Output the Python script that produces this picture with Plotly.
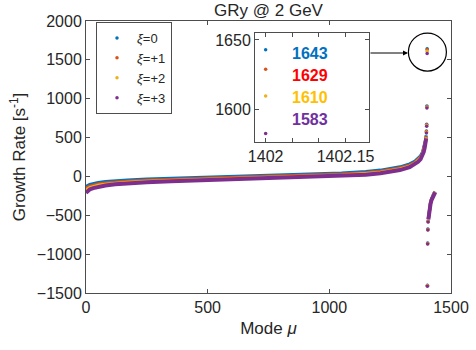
import plotly.graph_objects as go

# ---------------- data ----------------
series_names = ["<i>ξ</i>=0", "<i>ξ</i>=+1", "<i>ξ</i>=+2", "<i>ξ</i>=+3"]
series_colors = ["#0072BD", "#D95319", "#EDB120", "#7E2F8E"]

# smooth upper branch
modes_upper = [0, 5, 15, 30, 50, 80, 120, 170, 250, 350, 450, 550, 650, 750, 850,
               950, 1050, 1150, 1210, 1290, 1330, 1352, 1365, 1375, 1383, 1388,
               1392, 1395, 1397, 1398]
gr_upper_0 = [-135, -120, -105, -92, -80, -68, -57, -47, -35, -23, -13, -4, 5, 14, 22,
              32, 44, 62, 80, 122, 160, 195, 230, 265, 310, 360, 415, 460, 500, 530]
gr_upper_1 = [-160, -142, -125, -111, -98, -85, -73, -62, -49, -37, -27, -18, -9, 0, 8,
              17, 29, 47, 65, 107, 145, 180, 215, 250, 295, 345, 400, 447, 487, 517]
gr_upper_2 = [-186, -166, -147, -131, -116, -101, -87, -75, -62, -50, -39, -30, -21, -12, -4,
              5, 17, 35, 53, 95, 132, 167, 202, 237, 281, 330, 385, 433, 474, 503]
gr_upper_3 = [-212, -190, -168, -150, -133, -116, -100, -88, -74, -62, -51, -42, -33, -25, -17,
              -8, 4, 22, 40, 82, 118, 153, 188, 222, 265, 315, 370, 420, 460, 490]

# isolated points near the singular mode
modes_spike = [1399, 1400, 1401, 1402]
gr_spike_0 = [585, 670, 905, 1643]
gr_spike_1 = [578, 665, 898, 1629]
gr_spike_2 = [570, 655, 890, 1610]
gr_spike_3 = [560, 645, 880, 1583]

modes_drop = [1403, 1404, 1405, 1406]
gr_drop_0 = [-1400, -858, -678, -576]
gr_drop_1 = [-1404, -862, -682, -580]
gr_drop_2 = [-1408, -866, -686, -584]
gr_drop_3 = [-1412, -870, -690, -588]

# smooth lower branch
modes_lower = [1407, 1409, 1412, 1416, 1420, 1425, 1430, 1435]
gr_lower_0 = [-540, -478, -405, -338, -292, -248, -218, -196]
gr_lower_1 = [-545, -482, -410, -342, -296, -252, -222, -199]
gr_lower_2 = [-550, -486, -415, -346, -300, -256, -226, -202]
gr_lower_3 = [-555, -490, -420, -350, -304, -260, -230, -205]

inset_labels = ["1643", "1629", "1610", "1583"]
inset_label_colors = ["#0070C0", "#FF0000", "#FFC000", "#7030A0"]
inset_label_y = [1640.5, 1624.5, 1608.5, 1593]

x_ticks = [0, 500, 1000, 1500]
y_ticks = [-1500, -1000, -500, 0, 500, 1000, 1500, 2000]
inset_x_ticks = [1402, 1402.15]
inset_x_text = ["1402", "1402.15"]
inset_x_minor = [1402.05, 1402.1]
inset_y_ticks = [1600, 1650]

uppers = [gr_upper_0, gr_upper_1, gr_upper_2, gr_upper_3]
spikes = [gr_spike_0, gr_spike_1, gr_spike_2, gr_spike_3]
drops = [gr_drop_0, gr_drop_1, gr_drop_2, gr_drop_3]
lowers = [gr_lower_0, gr_lower_1, gr_lower_2, gr_lower_3]
band_widths = [3.2, 3.2, 3.2, 4.0]

TXT = "#262626"
AX = "#4d4d4d"
FONT = "Liberation Sans, Arial, sans-serif"

fig = go.Figure()

for i in range(4):
    c = series_colors[i]
    fig.add_trace(go.Scatter(x=modes_upper, y=uppers[i], mode="lines",
                             line=dict(color=c, width=band_widths[i]), showlegend=False,
                             hoverinfo="skip", xaxis="x", yaxis="y"))
    fig.add_trace(go.Scatter(x=modes_lower, y=lowers[i], mode="lines",
                             line=dict(color=c, width=band_widths[i]), showlegend=False,
                             hoverinfo="skip", xaxis="x", yaxis="y"))
    fig.add_trace(go.Scatter(x=modes_spike + modes_drop, y=spikes[i] + drops[i],
                             mode="markers", name=series_names[i],
                             marker=dict(color=c, size=3.5),
                             xaxis="x", yaxis="y"))
    fig.add_trace(go.Scatter(x=[modes_spike[-1]], y=[spikes[i][-1]], mode="markers",
                             marker=dict(color=c, size=3.5), showlegend=False,
                             xaxis="x2", yaxis="y2"))

for t, col, yv in zip(inset_labels, inset_label_colors, inset_label_y):
    fig.add_annotation(x=1402.083, y=yv, xref="x2", yref="y2", text="<b>" + t + "</b>",
                       showarrow=False, font=dict(family=FONT, size=16, color=col))

fig.add_shape(type="circle", xref="x", yref="y", xsizemode="pixel", ysizemode="pixel",
              xanchor=1403, yanchor=1600, x0=-19, x1=19, y0=-19, y1=19,
              line=dict(color="black", width=1.2))

fig.add_annotation(x=(408 - 86) / 365, y=(293 - 53) / 272, xref="paper", yref="paper",
                   ax=-39, ay=0, text="", showarrow=True, arrowhead=2, arrowsize=1,
                   arrowwidth=1, arrowcolor="black")

axis_common = dict(showline=True, linecolor=AX, linewidth=1, mirror="ticks",
                   ticks="inside", ticklen=4, tickcolor=AX, showgrid=False,
                   zeroline=False, automargin=False,
                   tickfont=dict(family=FONT, size=16, color=TXT))

fig.update_layout(
    width=476, height=350,
    margin=dict(l=86, r=25, t=21, b=57, autoexpand=False),
    paper_bgcolor="white", plot_bgcolor="white",
    font=dict(family=FONT, size=16, color=TXT),
    title=dict(text="GRy @ 2 GeV", x=(86 + 451) / 2 / 476, xanchor="center",
               y=1 - 10 / 350, yanchor="middle", automargin=False,
               font=dict(family=FONT, size=17, color=TXT)),
    xaxis=dict(range=[0, 1500], tickvals=x_ticks, domain=[0, 1],
               title=dict(text="Mode <i>μ</i>", standoff=6,
                          font=dict(family=FONT, size=17, color=TXT)),
               **axis_common),
    yaxis=dict(range=[-1500, 2000], tickvals=y_ticks, domain=[0, 1],
               title=dict(text="Growth Rate [s<sup>-1</sup>]", standoff=6,
                          font=dict(family=FONT, size=17, color=TXT)),
               **axis_common),
    xaxis2=dict(range=[1401.98, 1402.194], tickvals=inset_x_ticks, ticktext=inset_x_text,
                minor=dict(tickvals=inset_x_minor, ticks="inside", ticklen=4,
                           tickcolor=AX, showgrid=False),
                domain=[(255 - 86) / 365, (369 - 86) / 365], anchor="y2",
                **axis_common),
    yaxis2=dict(range=[1577, 1655], tickvals=inset_y_ticks,
                domain=[(293 - 142) / 272, (293 - 33) / 272], anchor="x2",
                **axis_common),
    legend=dict(x=(96 - 86) / 365, y=(293 - 22) / 272, xanchor="left", yanchor="top",
                bgcolor="white", bordercolor=AX, borderwidth=1,
                font=dict(family=FONT, size=13, color=TXT), entrywidth=48,
                itemsizing="trace", tracegroupgap=0),
    showlegend=True,
)

fig.write_html("out.html", config={"displayModeBar": False},
               post_script="document.body.style.margin='0px';document.body.style.padding='0px';")
